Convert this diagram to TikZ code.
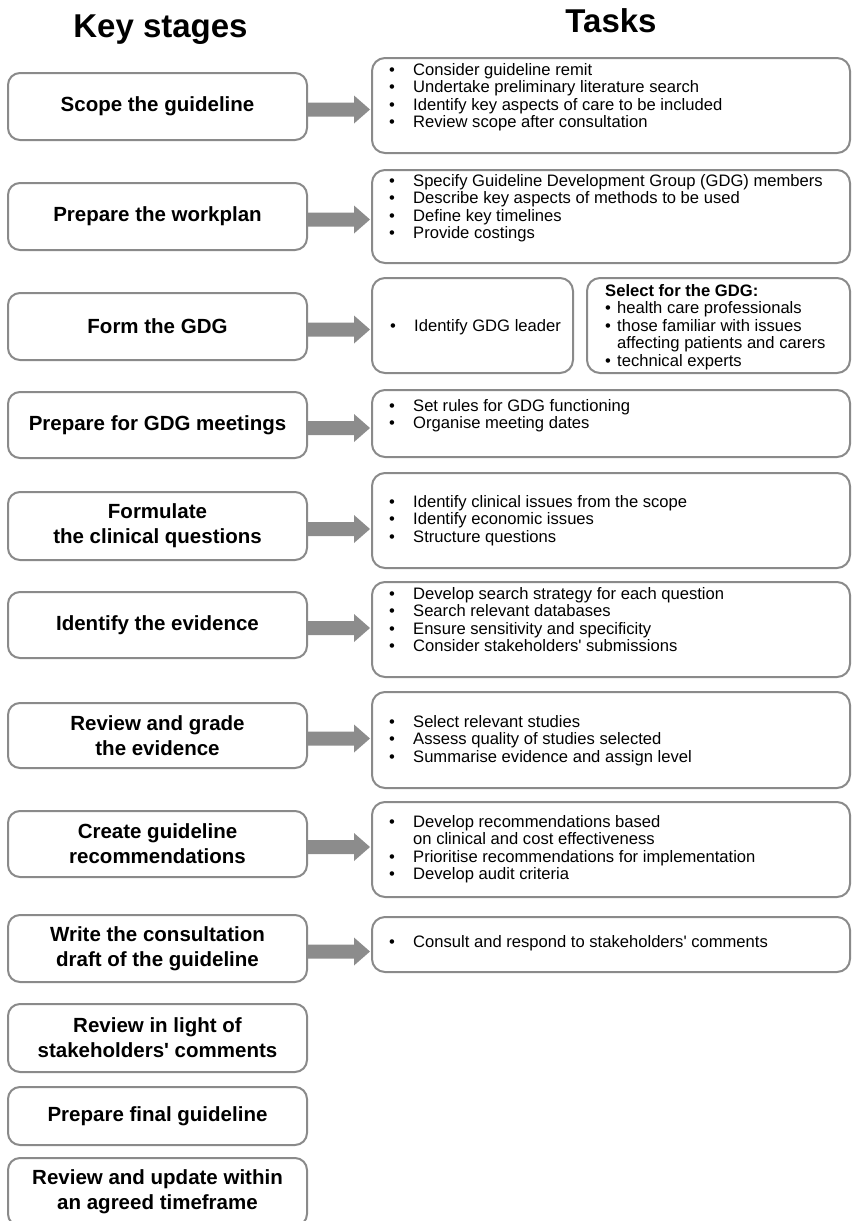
\documentclass[tikz,border=0pt]{standalone}
\usepackage{fontspec}
\setmainfont{Liberation Sans}[Ligatures=TeXOff]
\usetikzlibrary{calc}
\definecolor{bordergray}{HTML}{8A8A8A}
\definecolor{arrowgray}{HTML}{8C8C8C}
\newcommand\bl{\makebox[24pt][l]{•}}
\newcommand\sbl{\makebox[12pt][l]{•}}
\newcommand\fatarrow[2]{%
  \fill[arrowgray] let \p1=(#1.east), \p2=(#2.west) in
    (\x1,\y1-10pt) -- (\x2-17pt,\y1-10pt) -- (\x2-17pt,\y1-17pt) -- (\x2-1pt,\y1-3pt)
    -- (\x2-17pt,\y1+11pt) -- (\x2-17pt,\y1+4pt) -- (\x1,\y1+4pt) -- cycle;}
\begin{document}
\begin{tikzpicture}[x=1pt,y=-1pt,
  stage/.style={draw=bordergray, line width=2pt, rounded corners=12pt, minimum width=299pt,
    align=center, font=\bfseries\fontsize{20.5}{25}\selectfont, inner sep=0pt, fill=white},
  taskbox/.style={draw=bordergray, line width=2pt, rounded corners=13pt, inner sep=0pt},
  tasktext/.style={anchor=base west, align=left, inner sep=0pt, font=\fontsize{16.6}{17.5}\selectfont},
  heading/.style={font=\bfseries\fontsize{33}{36}\selectfont, anchor=base, inner sep=0pt}]
\useasboundingbox (0,0) rectangle (852,1221);

% headings
\node[heading] (hk) at (160.5,37) {Key stages};
\node[heading] (ht) at (611,32) {Tasks};

% key stages
\node[stage, minimum height=67pt] (s1) at (157.5,106.5) {Scope the guideline};
\node[stage, minimum height=67pt] (s2) at (157.5,216.5) {Prepare the workplan};
\node[stage, minimum height=67pt] (s3) at (157.5,326.5) {Form the GDG};
\node[stage, minimum height=66pt] (s4) at (157.5,425) {Prepare for GDG meetings};
\node[stage, minimum height=68pt] (s5) at (157.5,526) {Formulate\\the clinical questions};
\node[stage, minimum height=66pt] (s6) at (157.5,625) {Identify the evidence};
\node[stage, minimum height=65pt] (s7) at (157.5,735.5) {Review and grade\\the evidence};
\node[stage, minimum height=66pt] (s8) at (157.5,844) {Create guideline\\recommendations};
\node[stage, minimum height=67pt] (s9) at (157.5,948.5) {Write the consultation\\draft of the guideline};
\node[stage, minimum height=68pt] (s10) at (157.5,1038) {Review in light of\\stakeholders' comments};
\node[stage, minimum height=58pt] (s11) at (157.5,1116) {Prepare final guideline};
\node[stage, minimum height=68pt] (s12) at (157.5,1192) {Review and update within\\an agreed timeframe};

% task boxes
\node[taskbox, minimum width=478pt, minimum height=95pt] (t1) at (611,105.5) {};
\node[taskbox, minimum width=478pt, minimum height=93pt] (t2) at (611,216.5) {};
\node[taskbox, minimum width=201pt, minimum height=95pt] (t3a) at (472.5,325.5) {};
\node[taskbox, minimum width=263pt, minimum height=95pt] (t3b) at (718.5,325.5) {};
\node[taskbox, minimum width=478pt, minimum height=67pt] (t4) at (611,423.5) {};
\node[taskbox, minimum width=478pt, minimum height=95pt] (t5) at (611,520.5) {};
\node[taskbox, minimum width=478pt, minimum height=95pt] (t6) at (611,629.5) {};
\node[taskbox, minimum width=478pt, minimum height=96pt] (t7) at (611,740) {};
\node[taskbox, minimum width=478pt, minimum height=95pt] (t8) at (611,849.5) {};
\node[taskbox, minimum width=478pt, minimum height=55pt] (t9) at (611,944.5) {};

% task texts (anchored at the baseline of the last line)
\node[tasktext] (x1) at (389,127.5) {\bl Consider guideline remit\\\bl Undertake preliminary literature search\\\bl Identify key aspects of care to be included\\\bl Review scope after consultation};
\node[tasktext] (x2) at (389,238.5) {\bl Specify Guideline Development Group (GDG) members\\\bl Describe key aspects of methods to be used\\\bl Define key timelines\\\bl Provide costings};
\node[tasktext] (x3a) at (390,331) {\bl Identify GDG leader};
\node[tasktext] (x3b) at (605,366) {\textbf{Select for the GDG:}\\\sbl health care professionals\\\sbl those familiar with issues\\\makebox[12pt]{}affecting patients and carers\\\sbl technical experts};
\node[tasktext] (x4) at (389,428.5) {\bl Set rules for GDG functioning\\\bl Organise meeting dates};
\node[tasktext] (x5) at (389,542) {\bl Identify clinical issues from the scope\\\bl Identify economic issues\\\bl Structure questions};
\node[tasktext] (x6) at (389,651.5) {\bl Develop search strategy for each question\\\bl Search relevant databases\\\bl Ensure sensitivity and specificity\\\bl Consider stakeholders' submissions};
\node[tasktext] (x7) at (389,762) {\bl Select relevant studies\\\bl Assess quality of studies selected\\\bl Summarise evidence and assign level};
\node[tasktext] (x8) at (389,879.5) {\bl Develop recommendations based\\\makebox[24pt]{}on clinical and cost effectiveness\\\bl Prioritise recommendations for implementation\\\bl Develop audit criteria};
\node[tasktext] (x9) at (389,947) {\bl Consult and respond to stakeholders' comments};

% arrows
\fatarrow{s1}{t1}
\fatarrow{s2}{t2}
\fatarrow{s3}{t3a}
\fatarrow{s4}{t4}
\fatarrow{s5}{t5}
\fatarrow{s6}{t6}
\fatarrow{s7}{t7}
\fatarrow{s8}{t8}
\fatarrow{s9}{t9}
\end{tikzpicture}
\end{document}
